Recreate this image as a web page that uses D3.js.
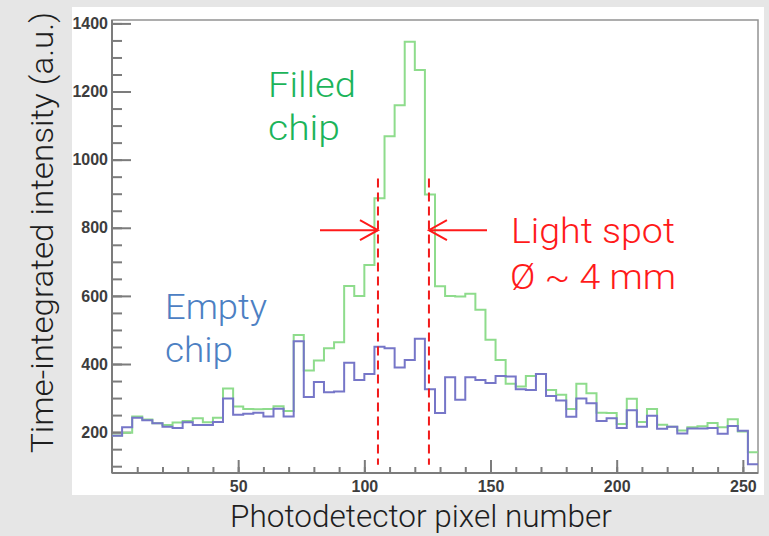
<!DOCTYPE html>
<html>
<head>
<meta charset="utf-8">
<script src="https://cdn.jsdelivr.net/npm/d3@7"></script>
<style>
  html, body { margin: 0; padding: 0; background: #e6e6e6; }
  svg { display: block; }
  .tick text { font-family: "Liberation Sans", Arial, sans-serif; font-weight: bold; font-size: 16px; fill: #3d3d3d; }
  .tick line { stroke: #7c7c7c; stroke-width: 2; }
</style>
</head>
<body>
<svg id="chart" width="769" height="536"></svg>
<script>
var binWidth = 4
  , nPixels = 256;

// intensity per 4-pixel bin
var filledChip = [
  190, 198, 246, 237, 226, 221, 228, 233, 241, 229, 242, 328, 275, 268, 267, 268,
  276, 262, 485, 381, 410, 446, 464, 629, 600, 691, 887, 1069, 1160, 1346, 1263, 898,
  628, 600, 598, 606, 559, 471, 412, 342, 334, 365, 371, 324, 310, 268, 342, 314,
  257, 256, 224, 298, 230, 268, 222, 216, 205, 214, 217, 227, 214, 238, 202, 141
];
var emptyChip = [
  189, 214, 242, 235, 226, 216, 212, 229, 221, 221, 230, 299, 251, 254, 257, 246,
  269, 246, 467, 303, 347, 317, 319, 404, 353, 371, 451, 446, 390, 412, 474, 326,
  256, 361, 295, 361, 353, 344, 365, 363, 326, 324, 371, 306, 293, 245, 299, 285,
  233, 241, 212, 264, 216, 248, 210, 216, 196, 211, 211, 212, 195, 218, 204, 106
];

var xTickLabels = [50, 100, 150, 200, 250];
var yTickLabels = [200, 400, 600, 800, 1000, 1200, 1400];

// edges of the light spot (pixel number) and the span of the dashed markers
var spotEdges = [105.4, 125.6];
var spotLineSpan = [104, 945];

var svg = d3.select('#chart')
  , x = d3.scaleLinear().domain([0, nPixels]).range([112, 758])
  , y = d3.scaleLinear().domain([80, 1410]).range([473, 20])
  , titleFont = 'Roboto, "Helvetica Neue", "Liberation Sans", sans-serif';

svg.append('rect')
  .attr('x', 72).attr('y', 7)
  .attr('width', 692).attr('height', 488)
  .attr('fill', '#fff');

svg.append('rect')
  .attr('x', x(0)).attr('y', y(1410))
  .attr('width', x(nPixels) - x(0)).attr('height', y(80) - y(1410))
  .attr('fill', 'none')
  .attr('stroke', '#939393')
  .attr('stroke-width', 1.5);

var noDomain = function (g) { g.select('.domain').remove(); };

svg.append('g')
  .attr('transform', 'translate(0,' + y(80) + ')')
  .call(d3.axisBottom(x).tickValues(d3.range(10, nPixels, 10)).tickSize(-6).tickFormat(''))
  .call(noDomain);
svg.append('g')
  .attr('transform', 'translate(0,' + y(80) + ')')
  .call(d3.axisBottom(x).tickValues(xTickLabels).tickSize(-13).tickPadding(8).tickFormat(d3.format('d')))
  .call(noDomain);

svg.append('g')
  .attr('transform', 'translate(' + x(0) + ',0)')
  .call(d3.axisLeft(y).tickValues(d3.range(100, 1410, 50)).tickSize(-10).tickFormat(''))
  .call(noDomain);
svg.append('g')
  .attr('transform', 'translate(' + x(0) + ',0)')
  .call(d3.axisLeft(y).tickValues(yTickLabels).tickSize(-19).tickPadding(4).tickFormat(d3.format('d')))
  .call(noDomain);

svg.append('line')
  .attr('x1', x(0)).attr('x2', x(nPixels))
  .attr('y1', y(80)).attr('y2', y(80))
  .attr('stroke', '#7c7c7c').attr('stroke-width', 2);
svg.append('line')
  .attr('x1', x(0)).attr('x2', x(0))
  .attr('y1', y(80)).attr('y2', y(1410))
  .attr('stroke', '#7c7c7c').attr('stroke-width', 2);

// step histogram: one point per bin start plus the closing edge
var stepLine = d3.line()
  .x(function (d) { return x(d[0]); })
  .y(function (d) { return y(d[1]); })
  .curve(d3.curveStepAfter);

var _steps = function (vals) {
  var pts = vals.map(function (v, i) { return [i * binWidth, v]; });
  pts.push([vals.length * binWidth, vals[vals.length - 1]]);
  return pts;
};

svg.append('path')
  .attr('d', stepLine(_steps(filledChip)))
  .attr('fill', 'none')
  .attr('stroke', '#8edc8c')
  .attr('stroke-width', 2);

svg.append('path')
  .attr('d', stepLine(_steps(emptyChip)))
  .attr('fill', 'none')
  .attr('stroke', '#7676c8')
  .attr('stroke-width', 2);

// light spot markers
svg.selectAll('line.spot')
  .data(spotEdges)
  .enter()
    .append('line')
    .attr('class', 'spot')
    .attr('x1', function (d) { return x(d); })
    .attr('x2', function (d) { return x(d); })
    .attr('y1', y(spotLineSpan[1]))
    .attr('y2', y(spotLineSpan[0]))
    .attr('stroke', '#f21a1a')
    .attr('stroke-width', 2)
    .attr('stroke-dasharray', '9,5');

var arrowY = y(793)
  , red = '#ff1a1a';

var _arrow = function (fromX, toX) {
  var dir = toX > fromX ? 1 : -1
    , g = svg.append('g')
        .attr('fill', 'none')
        .attr('stroke', red)
        .attr('stroke-width', 2);
  g.append('line')
    .attr('x1', fromX).attr('x2', toX)
    .attr('y1', arrowY).attr('y2', arrowY);
  g.append('path')
    .attr('d', 'M' + (toX - dir * 18) + ',' + (arrowY - 10) +
               'L' + toX + ',' + arrowY +
               'L' + (toX - dir * 18) + ',' + (arrowY + 10));
};

_arrow(320, x(spotEdges[0]));
_arrow(487, x(spotEdges[1]));

var _label = function (txt, px, py, len, color) {
  svg.append('text')
    .attr('x', px).attr('y', py)
    .attr('textLength', len)
    .attr('lengthAdjust', 'spacingAndGlyphs')
    .style('font-family', titleFont)
    .style('font-weight', 300)
    .style('font-size', '35px')
    .attr('fill', color)
    .text(txt);
};

_label('Filled', 268, 97, 88, '#1cb45a');
_label('chip', 268, 140, 72, '#1cb45a');
_label('Empty', 165, 319, 102, '#4c80c3');
_label('chip', 165, 362, 68, '#4c80c3');
_label('Light spot', 511, 243, 164, red);
_label('Ø ~ 4 mm', 510, 289, 166, red);

// axis titles
svg.append('text')
  .attr('transform', 'translate(53,453) rotate(-90)')
  .attr('textLength', 441)
  .attr('lengthAdjust', 'spacingAndGlyphs')
  .style('font-family', titleFont)
  .style('font-weight', 300)
  .style('font-size', '31px')
  .attr('fill', '#1e1e1e')
  .text('Time-integrated intensity (a.u.)');

svg.append('text')
  .attr('x', 230).attr('y', 527)
  .attr('textLength', 382)
  .attr('lengthAdjust', 'spacingAndGlyphs')
  .style('font-family', titleFont)
  .style('font-weight', 300)
  .style('font-size', '31px')
  .attr('fill', '#1e1e1e')
  .text('Photodetector pixel number');
</script>
</body>
</html>
